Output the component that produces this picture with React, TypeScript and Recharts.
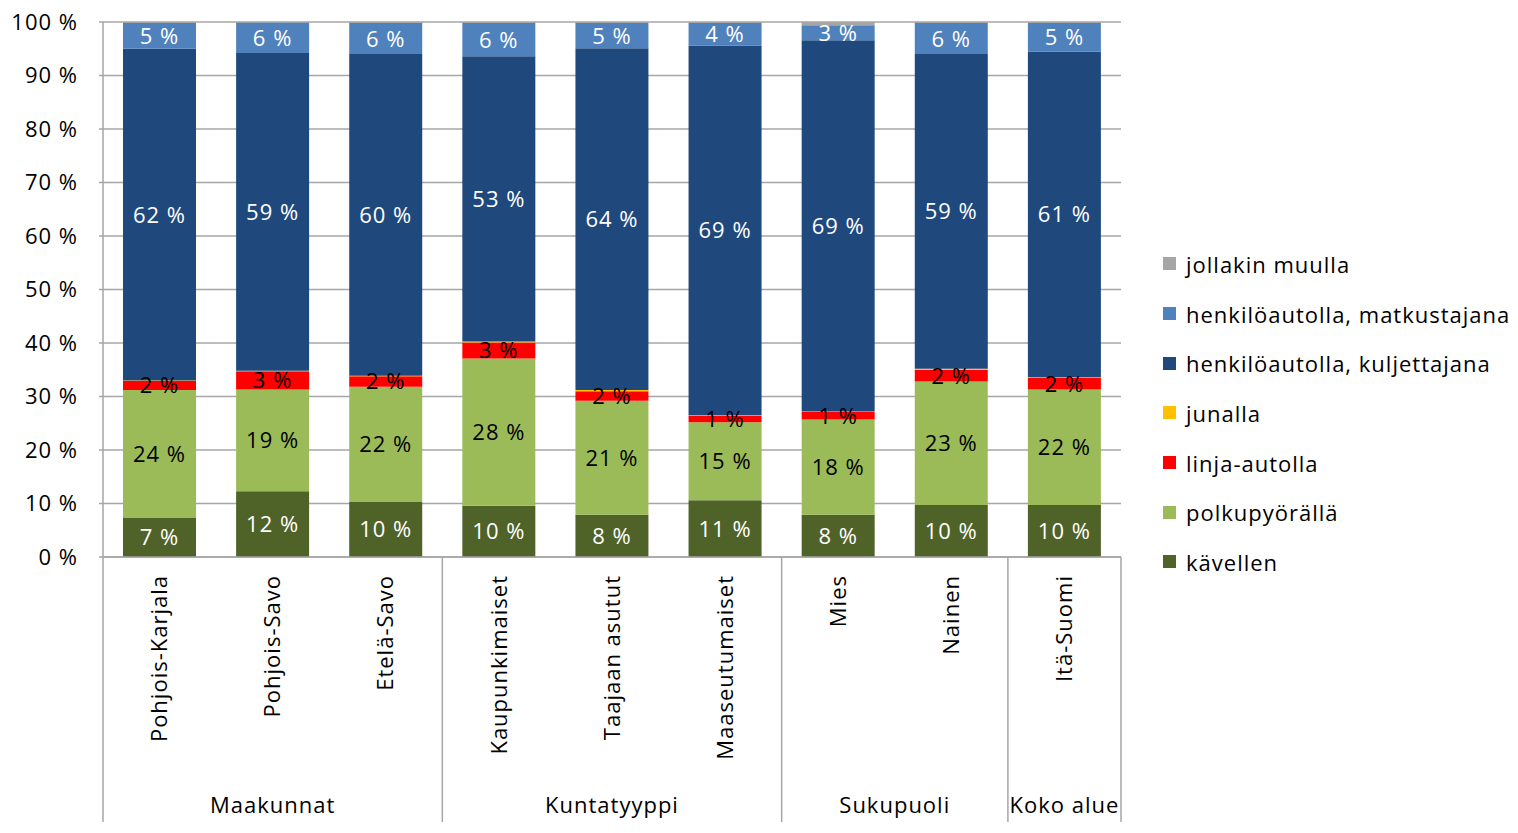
import { BarChart, Bar, XAxis, YAxis, CartesianGrid, LabelList } from 'recharts';

const categories = ['Pohjois-Karjala', 'Pohjois-Savo', 'Etelä-Savo', 'Kaupunkimaiset', 'Taajaan asutut', 'Maaseutumaiset', 'Mies', 'Nainen', 'Itä-Suomi'];
const groupNames = ['Maakunnat', 'Kuntatyyppi', 'Sukupuoli', 'Koko alue'];
const groupOf = [0, 0, 0, 1, 1, 1, 2, 2, 3];

const kavellen = [7.3, 12.3, 10.3, 9.6, 7.9, 10.6, 7.9, 9.7, 9.7];
const polkupyoralla = [23.9, 19.0, 21.5, 27.5, 21.3, 14.6, 17.8, 23.1, 21.6];
const linjaAutolla = [1.7, 3.4, 2.0, 3.0, 1.8, 1.2, 1.4, 2.2, 2.2];
const junalla = [0.1, 0.1, 0.1, 0.2, 0.2, 0.1, 0.1, 0.2, 0.1];
const kuljettajana = [62.0, 59.4, 60.1, 53.3, 63.9, 69.1, 69.4, 58.8, 60.9];
const matkustajana = [4.8, 5.7, 5.8, 6.2, 4.7, 4.2, 2.8, 5.8, 5.3];
const muulla = [0.2, 0.1, 0.2, 0.2, 0.2, 0.2, 0.6, 0.2, 0.2];

const yTicks = [0, 10, 20, 30, 40, 50, 60, 70, 80, 90, 100];

// pinon järjestys alhaalta ylös
const series = [
  { key: 'kavellen', name: 'kävellen', values: kavellen, color: '#4F6228', label: '#ffffff' },
  { key: 'polku', name: 'polkupyörällä', values: polkupyoralla, color: '#9BBB59', label: '#000000' },
  { key: 'linja', name: 'linja-autolla', values: linjaAutolla, color: '#FF0000', label: '#000000' },
  { key: 'juna', name: 'junalla', values: junalla, color: '#FFC000', label: null },
  { key: 'kulj', name: 'henkilöautolla, kuljettajana', values: kuljettajana, color: '#1F497D', label: '#ffffff' },
  { key: 'matk', name: 'henkilöautolla, matkustajana', values: matkustajana, color: '#4F81BD', label: '#ffffff' },
  { key: 'muu', name: 'jollakin muulla', values: muulla, color: '#A6A6A6', label: null },
];

const chartData = categories.map((c, i) => {
  const row: Record<string, any> = { name: c };
  series.forEach(s => { row[s.key] = s.values[i]; });
  return row;
});

const FONT = '"Open Sans", sans-serif';
const FS = 22;
const LS = 1;
const W = 1518;
const H = 833;
const PLOT_LEFT = 103;
const PLOT_RIGHT = 1121;
const PLOT_TOP = 22;
const PLOT_BOTTOM = 557;
const BAND = (PLOT_RIGHT - PLOT_LEFT) / categories.length;
const GRID = '#a6a6a6';

const CategoryTick = (props: any) => {
  const { payload } = props;
  const i = payload.index;
  const x = payload.coordinate;
  const g = groupOf[i];
  const first = i === 0 || groupOf[i - 1] !== g;
  const last = i === categories.length - 1;
  const size = groupOf.filter(v => v === g).length;
  return (
    <g>
      <text
        x={x}
        y={575}
        transform={`rotate(-90, ${x}, 575)`}
        textAnchor="end"
        dy="0.35em"
        fontSize={FS}
        fill="#000"
        style={{ letterSpacing: LS }}
        fontFamily={FONT}
      >
        {payload.value}
      </text>
      {first && (
        <>
          <line x1={x - BAND / 2} x2={x - BAND / 2} y1={PLOT_BOTTOM} y2={822} stroke={GRID} strokeWidth={1.5} />
          <text
            x={x - BAND / 2 + (BAND * size) / 2}
            y={805}
            textAnchor="middle"
            dy="0.35em"
            fontSize={FS}
            fill="#000"
            style={{ letterSpacing: LS }}
            fontFamily={FONT}
          >
            {groupNames[g]}
          </text>
        </>
      )}
      {last && <line x1={x + BAND / 2} x2={x + BAND / 2} y1={PLOT_BOTTOM} y2={822} stroke={GRID} strokeWidth={1.5} />}
    </g>
  );
};

const makeLabel = (color: string) => (props: any) => {
  const { x, y, width, height, value } = props;
  return (
    <text
      x={x + width / 2}
      y={y + height / 2}
      textAnchor="middle"
      dy="0.36em"
      fontSize={FS}
      fill={color}
      style={{ letterSpacing: LS }}
      fontFamily={FONT}
    >
      {`${Math.round(value)} %`}
    </text>
  );
};

export default function App() {
  const legendItems = [...series].reverse();
  return (
    <div style={{ position: 'relative', width: W, height: H, fontFamily: FONT, background: '#fff' }}>
      <style>{`body{margin:0}`}</style>
      <BarChart
        width={W}
        height={H}
        data={chartData}
        margin={{ top: PLOT_TOP, right: W - PLOT_RIGHT, bottom: 0, left: 0 }}
      >
        <CartesianGrid vertical={false} stroke={GRID} strokeWidth={1.5} />
        <XAxis
          dataKey="name"
          height={H - PLOT_BOTTOM}
          interval={0}
          tickLine={false}
          axisLine={{ stroke: GRID, strokeWidth: 1.5 }}
          tick={<CategoryTick />}
        />
        <YAxis
          width={PLOT_LEFT}
          domain={[0, 100]}
          ticks={yTicks}
          allowDataOverflow
          tickFormatter={(v: number) => `${v} %`}
          tickSize={4}
          tickMargin={21}
          axisLine={{ stroke: GRID, strokeWidth: 1.5 }}
          tickLine={{ stroke: GRID, strokeWidth: 1.5 }}
          tick={{ fontSize: FS, fill: '#000', fontFamily: FONT, style: { letterSpacing: LS } }}
        />
        {series.map(s => (
          <Bar key={s.key} dataKey={s.key} name={s.name} stackId="a" fill={s.color} barSize={73} isAnimationActive={false}>
            {s.label && <LabelList dataKey={s.key} content={makeLabel(s.label)} />}
          </Bar>
        ))}
      </BarChart>
      <div style={{ position: 'absolute', left: 1163, top: 239 }}>
        {legendItems.map(s => (
          <div key={s.key} style={{ display: 'flex', alignItems: 'center', height: 49.7 }}>
            <span style={{ width: 13, height: 13, background: s.color, display: 'inline-block', marginRight: 10 }} />
            <span style={{ fontSize: FS, letterSpacing: LS, color: '#000', whiteSpace: 'nowrap' }}>{s.name}</span>
          </div>
        ))}
      </div>
    </div>
  );
}
